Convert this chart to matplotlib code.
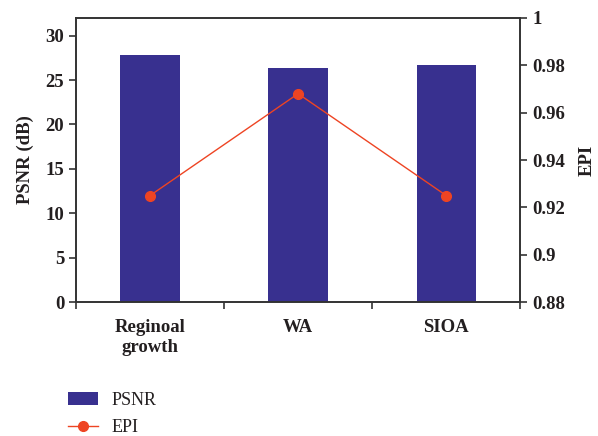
import matplotlib.pyplot as plt
import numpy as np

# Methods compared and their scores
methods = ["Reginoal\ngrowth", "WA", "SIOA"]
psnr = [27.8, 26.4, 26.7]
epi = [0.925, 0.968, 0.925]

plt.rcParams['font.family'] = ['Liberation Serif', 'DejaVu Serif']

bar_color = "#38308f"
line_color = "#ee4423"
spine_color = "#333333"
text_color = "#231f20"
fs = 13.5

fig = plt.figure(figsize=(5.98, 4.36), dpi=100)
ax = fig.add_axes([0.127, 0.307, 0.743, 0.652])
x = np.arange(len(methods))

# PSNR bars on the left axis
ax.bar(x, psnr, width=0.4, color=bar_color, label="PSNR", zorder=2)
ax.set_xlim(-0.5, len(methods) - 0.5)
ax.set_ylim(0, 32)
ax.set_yticks([0, 5, 10, 15, 20, 25, 30])
ax.set_ylabel("PSNR (dB)", fontsize=fs, fontweight="bold", labelpad=8,
              color=text_color)

# category labels at centres, tick marks at the boundaries
ax.set_xticks(x)
ax.set_xticklabels(methods, fontsize=fs, fontweight="bold", linespacing=1.25,
                   color=text_color)
ax.tick_params(axis="x", which="major", length=0, pad=12)
ax.set_xticks(np.arange(-0.5, len(methods), 1.0), minor=True)
ax.tick_params(axis="x", which="minor", length=5, width=1.2, color=spine_color)
ax.tick_params(axis="y", length=5, width=1.2, color=spine_color, labelsize=fs,
               labelcolor=text_color)
for t in ax.get_yticklabels():
    t.set_fontweight("bold")

# EPI line on the right axis
ax2 = ax.twinx()
ax2.plot(x, epi, color=line_color, lw=1.0, marker="o", markersize=7,
         label="EPI", zorder=3)
ax2.set_ylim(0.88, 1.0)
ax2.set_yticks([0.88, 0.9, 0.92, 0.94, 0.96, 0.98, 1.0])
ax2.set_yticklabels(["0.88", "0.9", "0.92", "0.94", "0.96", "0.98", "1"])
ax2.set_ylabel("EPI", fontsize=fs, fontweight="bold", labelpad=10,
               color=text_color)
ax2.tick_params(axis="y", length=5, width=1.2, color=spine_color, labelsize=fs,
                labelcolor=text_color)
for t in ax2.get_yticklabels():
    t.set_fontweight("bold")

for a in (ax, ax2):
    for s in a.spines.values():
        s.set_color(spine_color)
        s.set_linewidth(1.2)

h1, l1 = ax.get_legend_handles_labels()
h2, l2 = ax2.get_legend_handles_labels()
leg = fig.legend(h1 + h2, l1 + l2, loc="upper left",
                 bbox_to_anchor=(0.087, 0.138), frameon=False, fontsize=13,
                 handlelength=1.65, handletextpad=0.75, labelspacing=0.55)
for t in leg.get_texts():
    t.set_color(text_color)

fig.savefig("out.png", dpi=100)
